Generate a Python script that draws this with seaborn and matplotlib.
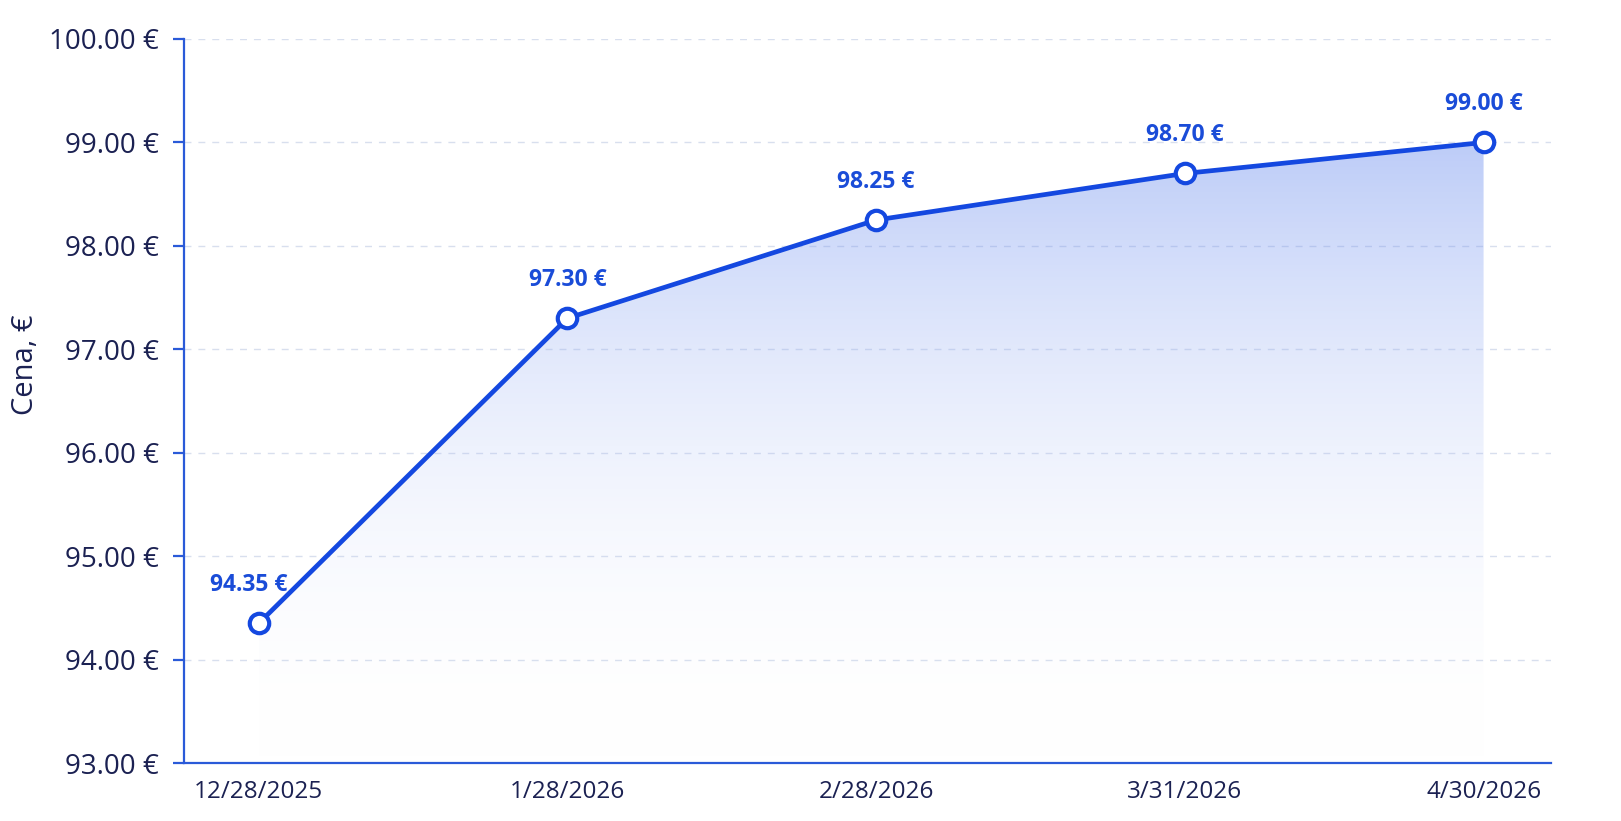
import numpy as np
import pandas as pd
import seaborn as sns
import matplotlib.pyplot as plt
import matplotlib.dates as mdates
from matplotlib.colors import LinearSegmentedColormap

# data
dates = ['2025-12-28', '2026-01-28', '2026-02-28', '2026-03-31', '2026-04-30']
prices = [94.35, 97.30, 98.25, 98.70, 99.00]
tick_labels = ['12/28/2025', '1/28/2026', '2/28/2026', '3/31/2026', '4/30/2026']
y_ticks = [93, 94, 95, 96, 97, 98, 99, 100]

df = pd.DataFrame({'date': pd.to_datetime(dates), 'price': prices})

line_col = '#1448e0'
text_col = '#1b2152'
lab_col = '#1a4cd8'

sns.set_theme(style='white')
plt.rcParams['font.family'] = ['Open Sans', 'DejaVu Sans']

fig = plt.figure(figsize=(16.21, 8.21), dpi=100)
ax = fig.add_axes([0.1135, 0.0706, 0.8435, 0.8819])

# gradient fill under the line
x0 = mdates.date2num(df['date'].iloc[0])
x1 = mdates.date2num(df['date'].iloc[-1])
poly = ax.fill_between(df['date'], df['price'], 93, color='none', lw=0)
cmap = LinearSegmentedColormap.from_list('g', [(1, 1, 1, 0), (0.35, 0.5, 0.93, 0.4)])
grad = np.linspace(0, 1, 256).reshape(-1, 1)
img = ax.imshow(grad, extent=[x0, x1, 93, max(prices)], origin='lower',
                aspect='auto', cmap=cmap, zorder=1)
img.set_clip_path(poly.get_paths()[0], transform=ax.transData)

sns.lineplot(data=df, x='date', y='price', ax=ax, color=line_col, lw=3.4,
             marker='o', markersize=14, markerfacecolor='white',
             markeredgecolor=line_col, markeredgewidth=3, zorder=3)

for i, (d, p) in enumerate(zip(df['date'], df['price'])):
    dx = -7 if i == 0 else 0
    ax.annotate(f'{p:.2f} €', (d, p), xytext=(dx, 19), textcoords='offset points',
                ha='center', va='bottom', fontsize=16.5, fontweight='bold', color=lab_col)

ax.set_ylim(93, 100)
ax.set_xlim(x0 - 7.5, x1 + 6.8)
ax.set_yticks(y_ticks)
ax.set_yticklabels([f'{v:.2f} €' for v in y_ticks])
ax.set_xticks(df['date'])
ax.set_xticklabels(tick_labels)
ax.grid(axis='y', color='#d8dfee', linestyle=(0, (5, 5)), lw=1)
ax.set_axisbelow(True)

for s in ['top', 'right']:
    ax.spines[s].set_visible(False)
for s in ['left', 'bottom']:
    ax.spines[s].set_color('#2a5ad8')
    ax.spines[s].set_linewidth(1.6)

ax.tick_params(axis='y', length=8, width=1.6, color='#2a5ad8', labelsize=20,
               labelcolor=text_col, pad=10, left=True)
ax.tick_params(axis='x', length=0, labelsize=17.5, labelcolor=text_col, pad=12)
ax.set_xlabel('')
ax.set_ylabel('Cena, €', fontsize=21, color=text_col)
ax.yaxis.set_label_coords(-0.105, 0.55)

fig.savefig('out.png', dpi=100, facecolor='white')
